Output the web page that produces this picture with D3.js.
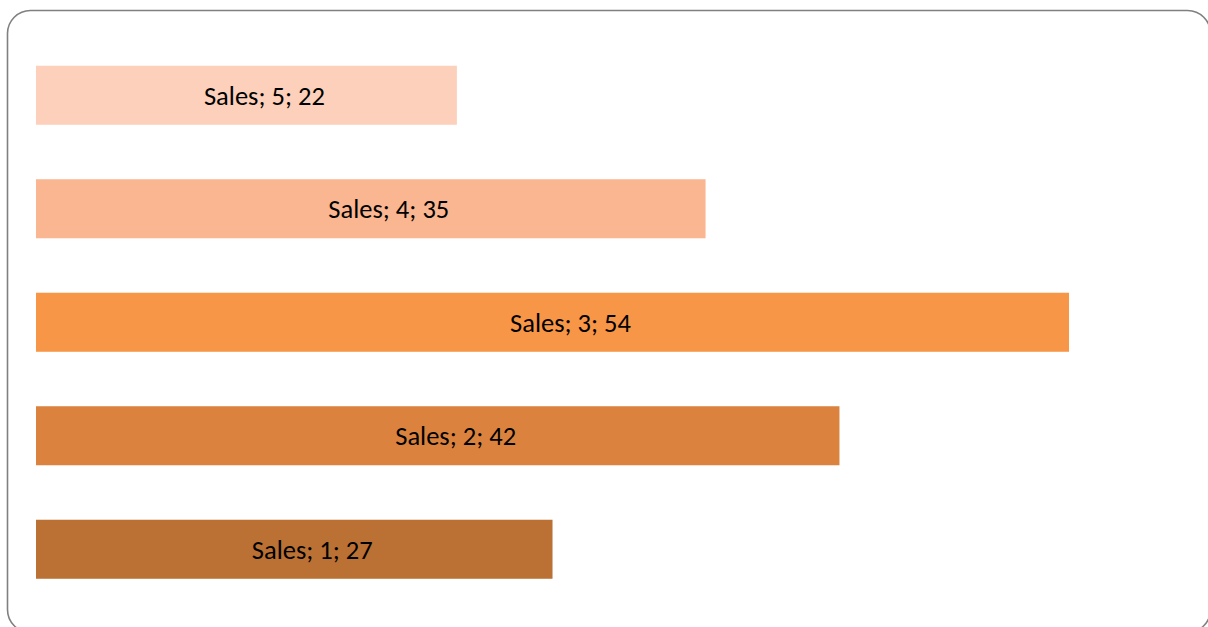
<!DOCTYPE html>
<html>
<head>
<meta charset="utf-8">
<script src="https://cdn.jsdelivr.net/npm/d3@7"></script>
<style>
  html, body { margin: 0; padding: 0; background: #ffffff; }
  svg { display: block; }
</style>
</head>
<body>
<svg id="chart" width="1208" height="627"></svg>
<script>
const seriesName = "Sales";
const categories = ["5", "4", "3", "2", "1"];
const values = [22, 35, 54, 42, 27];
const colors = ["#FCD0BA", "#F9B690", "#F79646", "#DB833E", "#BA7133"];

const W = 1208, H = 627;
const svg = d3.select("#chart");

// outer rounded frame
svg.append("rect")
  .attr("x", 7.5).attr("y", 10.5)
  .attr("width", 1203).attr("height", 622)
  .attr("rx", 23).attr("ry", 23)
  .attr("fill", "#ffffff")
  .attr("stroke", "#808080")
  .attr("stroke-width", 1.6);

const x = d3.scaleLinear().domain([0, 60]).range([36, 36 + 60 * 19.13]);
const y = d3.scaleBand().domain(categories).range([38.5, 606])
  .paddingInner(0.48).paddingOuter(0.24);

const data = categories.map((c, i) => ({ cat: c, value: values[i], color: colors[i] }));

svg.selectAll("rect.bar").data(data).enter().append("rect")
  .attr("class", "bar")
  .attr("x", x(0))
  .attr("y", d => y(d.cat))
  .attr("width", d => x(d.value) - x(0))
  .attr("height", y.bandwidth())
  .attr("fill", d => d.color);

svg.selectAll("text.lbl").data(data).enter().append("text")
  .attr("class", "lbl")
  .attr("x", d => (x(0) + x(d.value)) / 2 + 18)
  .attr("y", d => y(d.cat) + y.bandwidth() / 2)
  .attr("dy", "0.36em")
  .attr("text-anchor", "middle")
  .attr("font-family", "Carlito, Lato, 'Open Sans', sans-serif")
  .attr("font-size", "26.5px")
  .attr("fill", "#000000")
  .text(d => `${seriesName}; ${d.cat}; ${d.value}`);
</script>
</body>
</html>
